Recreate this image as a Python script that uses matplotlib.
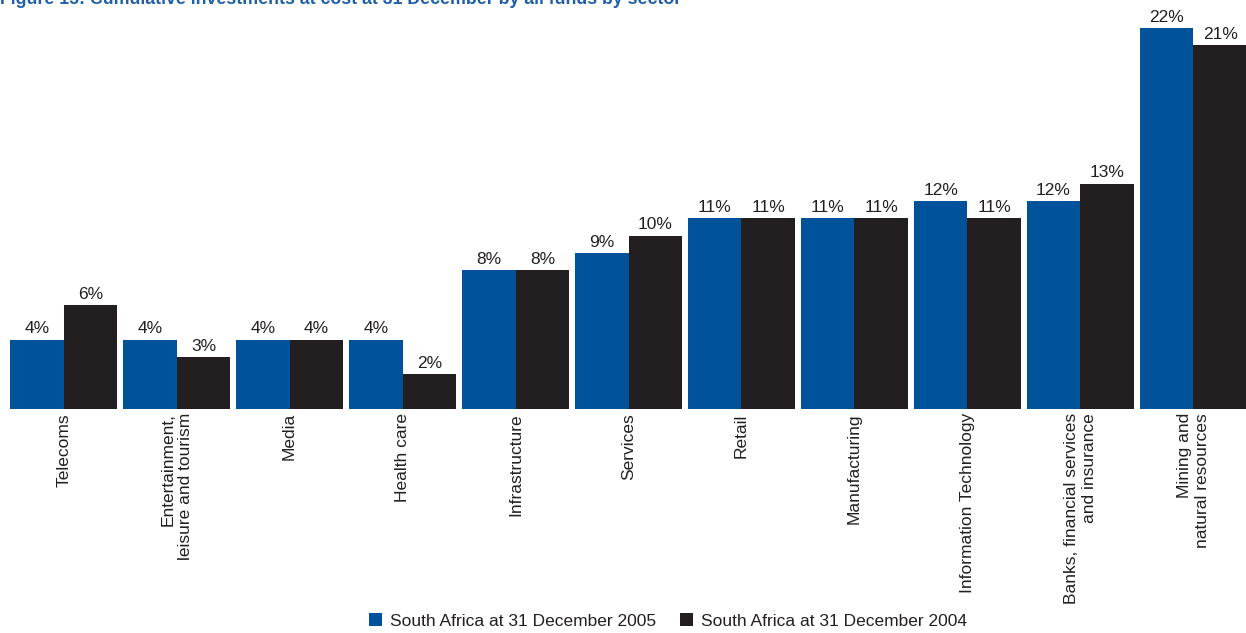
import matplotlib
matplotlib.use("Agg")
import matplotlib.pyplot as plt
import numpy as np
from matplotlib.patches import Patch

plt.rcParams['font.family'] = ['Liberation Sans', 'DejaVu Sans']

sectors = [
    "Telecoms",
    "Entertainment,\nleisure and tourism",
    "Media",
    "Health care",
    "Infrastructure",
    "Services",
    "Retail",
    "Manufacturing",
    "Information Technology",
    "Banks, financial services\nand insurance",
    "Mining and\nnatural resources",
]
sa_2005 = [4, 4, 4, 4, 8, 9, 11, 11, 12, 12, 22]
sa_2004 = [6, 3, 4, 2, 8, 10, 11, 11, 11, 13, 21]

series_names = ["South Africa at 31 December 2005", "South Africa at 31 December 2004"]
blue = "#00529b"
dark = "#231f20"
text_col = "#231f20"

W, H = 1246, 633
fig = plt.figure(figsize=(W / 100, H / 100), dpi=100)
ax = fig.add_axes([10 / W, 1 - 409 / H, 1237 / W, 381 / H])

x = np.arange(len(sectors))
bw = 0.475
b1 = ax.bar(x - bw / 2, sa_2005, width=bw, color=blue, linewidth=0)
b2 = ax.bar(x + bw / 2, sa_2004, width=bw, color=dark, linewidth=0)

for bars, vals in ((b1, sa_2005), (b2, sa_2004)):
    for rect, v in zip(bars, vals):
        ax.annotate(f"{v}%", (rect.get_x() + rect.get_width() / 2, v),
                    xytext=(0, 2.5), textcoords="offset points",
                    ha="center", va="bottom", fontsize=12.5, color=text_col,
                    annotation_clip=False)

ax.set_xlim(-0.475, len(sectors) - 0.525)
ax.set_ylim(0, 22)
ax.set_xticks(x)
ax.set_xticklabels(sectors, rotation=90, ha="center", va="top",
                   multialignment="right", fontsize=12.5, color=text_col)
ax.tick_params(axis="x", length=0, pad=3)
ax.set_yticks([])
for s in ax.spines.values():
    s.set_visible(False)

handles = [Patch(facecolor=blue, edgecolor="none"), Patch(facecolor=dark, edgecolor="none")]
fig.legend(handles, series_names, loc="center", bbox_to_anchor=(668 / W, 1 - 621 / H),
           ncol=2, frameon=False, fontsize=12.5, handlelength=0.75, handleheight=0.75,
           handletextpad=0.45, columnspacing=1.4, labelcolor=text_col)

fig.text(0.0, 1.0 + 1 / H,
         "Figure 15: Cumulative investments at cost at 31 December by all funds by sector",
         ha="left", va="center", fontsize=12.8, fontweight="bold", color="#1f5fa8")

fig.savefig("out.png", dpi=100)
